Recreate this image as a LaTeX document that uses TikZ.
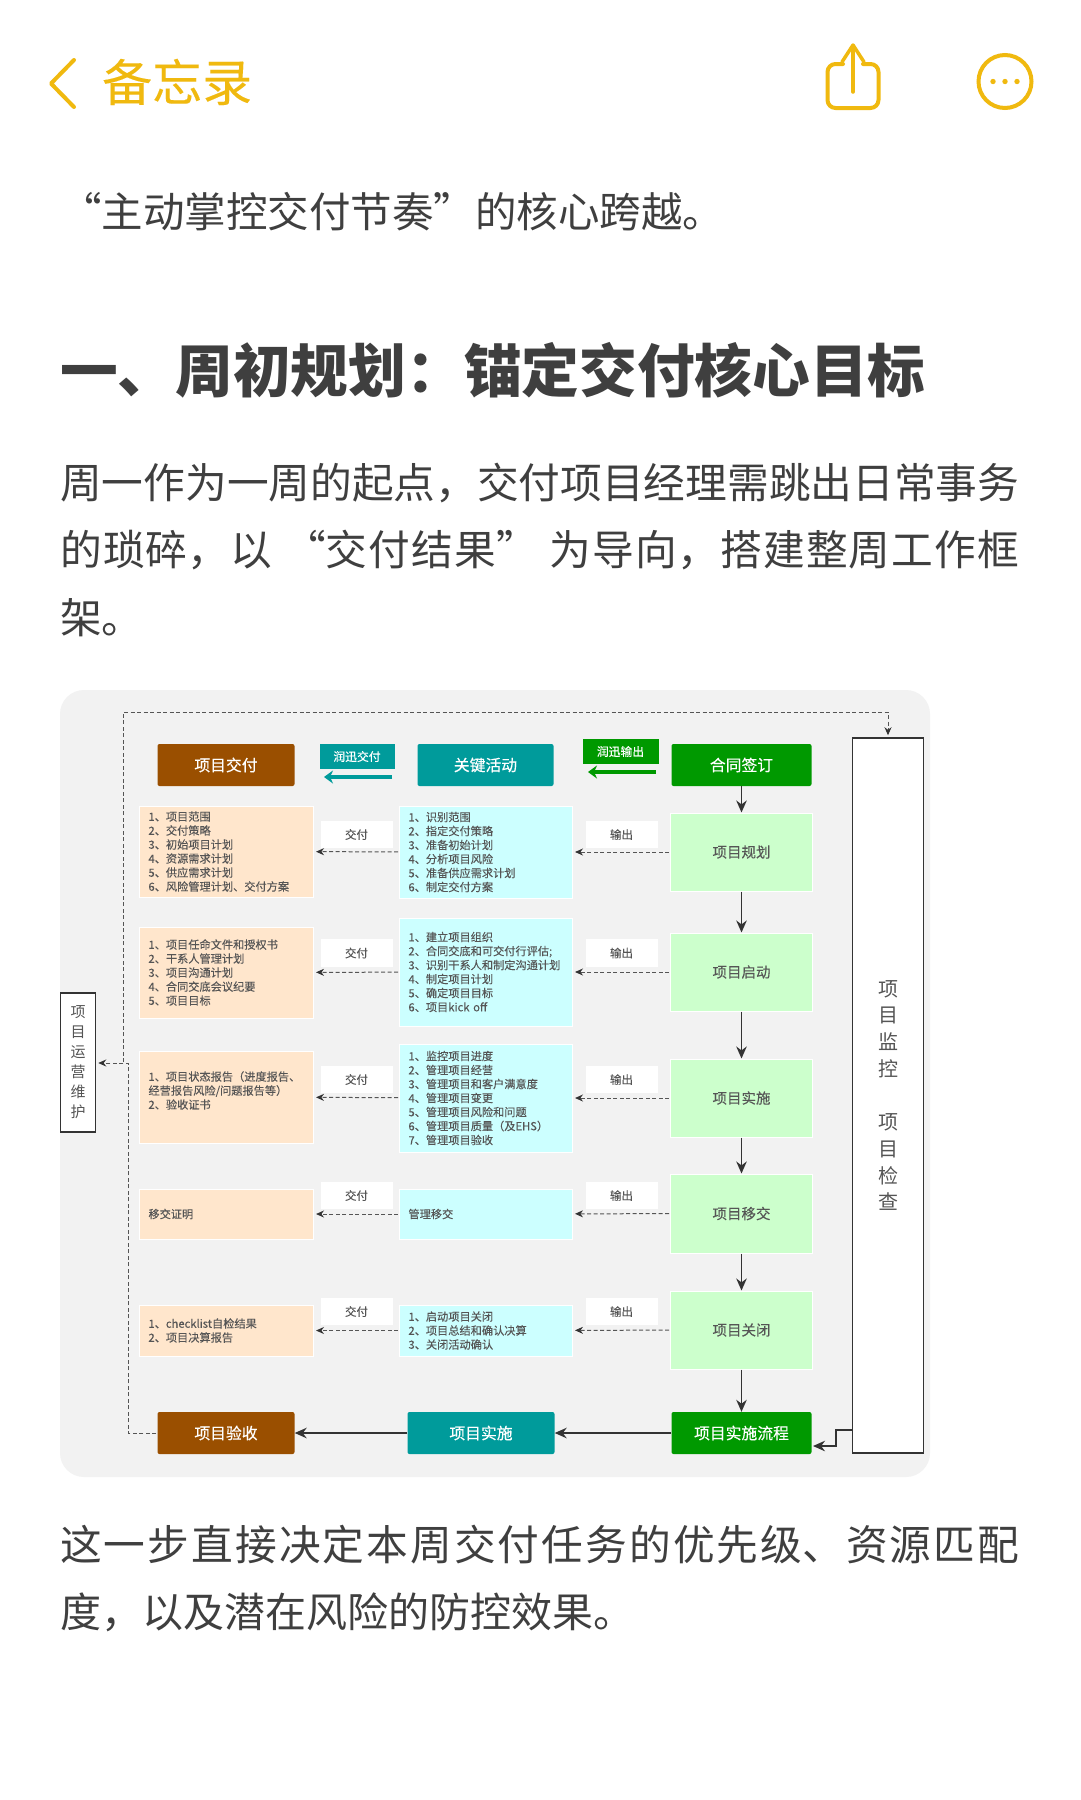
\documentclass[tikz,border=0pt]{standalone}
\usepackage{fontspec}
\setmainfont{Noto Sans CJK SC}
\newfontfamily\medfont[FakeBold=0.25]{Noto Sans CJK SC}
\newfontfamily\softfont[FakeBold=0.12]{Noto Sans CJK SC}
\usetikzlibrary{arrows.meta}
\XeTeXlinebreaklocale "zh"
\XeTeXlinebreakskip=0pt plus 3pt minus 0.3pt
\definecolor{amber}{HTML}{F0B90F}
\definecolor{bodyink}{HTML}{3F3F3F}
\definecolor{panelbg}{HTML}{F2F2F2}
\definecolor{brownh}{HTML}{9A4F00}
\definecolor{tealh}{HTML}{009B9B}
\definecolor{greenh}{HTML}{009900}
\definecolor{lgreen}{HTML}{CCFFCC}
\definecolor{lcyan}{HTML}{CCFFFF}
\definecolor{lorange}{HTML}{FFE6CC}
\definecolor{smallink}{HTML}{555555}
\definecolor{lineink}{HTML}{333333}
\newcommand{\bx}[7]{%
  \pgfmathsetmacro\bxw{#4-#2}\pgfmathsetmacro\bxh{#5-#3}%
  \node[inner sep=0pt,minimum width=\bxw pt,minimum height=\bxh pt,#6] (#1) at ({(#2+#4)/2-0.5},{(#3+#5)/2}) {#7};}
\newcommand{\tl}[4]{\node[anchor=base west,inner sep=0pt,text=bodyink] (#1) at (60,#2) {\fontsize{#3}{#3}\selectfont #4};}
\newcommand{\just}[1]{\parbox[t]{959pt}{\parfillskip=0pt\noindent #1}}
\newcommand{\lowr}[1]{\raisebox{-1pt}{#1}}
\tikzset{
  headbox/.style={rounded corners=2pt,text=white,font=\fontsize{15.8}{18}\selectfont\medfont},
  tagbox/.style={text=white,font=\fontsize{11.8}{14}\selectfont\medfont},
  listbox/.style={draw=white,line width=1pt,text=smallink,text width=\bxw pt-18pt,inner xsep=9pt,align=left,font=\fontsize{11.2}{14}\selectfont\softfont},
  stepbox/.style={draw=white,line width=1pt,fill=lgreen,text=smallink,font=\fontsize{14.5}{17}\selectfont\softfont},
  lablbox/.style={fill=white,text=smallink,font=\fontsize{11.5}{14}\selectfont\softfont},
  sidebox/.style={draw=lineink,line width=1.5pt,fill=white,text=smallink,align=center},
  dasharr/.style={draw=smallink,line width=1pt,dash pattern=on 4pt off 2.5pt,-{Stealth[length=8pt,width=7pt,color=lineink]},shorten >=2pt,shorten <=1pt},
  solarr/.style={draw=lineink,line width=1.7pt,-{Stealth[length=12pt,width=10.5pt]}},
  widearr/.style={line width=4pt,-{Stealth[length=9pt,width=13pt]}},
  iconline/.style={draw=amber,line width=4pt,line cap=round,line join=round}
}
\begin{document}
\begin{tikzpicture}[x=1pt,y=-1pt]
\useasboundingbox (0,0) rectangle (1080,1800);
\fill[white] (0,0) rectangle (1080,1800);
% top bar
\draw[iconline] (74,60) -- (51,83.5) -- (74,107);
\node[anchor=base west,inner sep=0pt,text=amber] (apptitle) at (102,101) {\fontsize{50}{50}\selectfont\softfont 备忘录};
\draw[iconline,rounded corners=8pt] (843,64) -- (827.5,64) -- (827.5,108) -- (878.5,108) -- (878.5,64) -- (863,64);
\draw[iconline,line width=3.5pt] (853,46) -- (853,92);
\draw[iconline,line width=3.5pt] (842,62) -- (853,45) -- (864,62);
\draw[amber,line width=4pt] (1005,81.5) circle[radius=26.5pt];
\fill[amber] (993,81.5) circle[radius=2.7pt] (1005,81.5) circle[radius=2.7pt] (1017,81.5) circle[radius=2.7pt];
% article text
\tl{l1}{227}{41.5}{“主动掌控交付节奏”的核心跨越。}
\node[anchor=base west,inner sep=0pt,text=bodyink] (hd) at (60,392) {\fontsize{57.7}{57.7}\selectfont\bfseries 一、周初规划：锚定交付核心目标};
\tl{p1}{498}{41.7}{\just{周一作为一周的起点，交付项目经理需跳出日常事务}}
\tl{p2}{565}{41.7}{\just{的琐碎，以\hspace{12pt}“交付结果”\hspace{12pt}为导向，搭建整周工作框}}
\tl{p3}{633}{41.7}{架。}
\tl{p4}{1560}{41.7}{\just{这一步直接决定本周交付任务的优先级、资源匹配}}
\tl{p5}{1627}{41}{度，以及潜在风险的防控效果。}
% diagram panel
\fill[panelbg,rounded corners=24pt] (60,690) rectangle (930,1477);
% headers
\bx{hA}{158}{744}{295}{786}{headbox,fill=brownh}{\raisebox{1pt}{项目交付}}
\bx{hB}{418}{744}{554}{786}{headbox,fill=tealh}{\raisebox{1pt}{关键活动}}
\bx{hC}{672}{744}{812}{786}{headbox,fill=greenh}{\raisebox{1pt}{合同签订}}
\bx{tagA}{320}{744}{395}{769}{tagbox,fill=tealh}{润迅交付}
\bx{tagB}{583}{739}{659}{764}{tagbox,fill=greenh}{润迅输出}
\coordinate (ta1) at (392,777); \coordinate (ta2) at (324,777);
\coordinate (tb1) at (656,772); \coordinate (tb2) at (588,772);
\draw[widearr,tealh] (ta1) -- (ta2);
\draw[widearr,greenh] (tb1) -- (tb2);
% row 1
\bx{o1}{140}{806}{314}{897}{listbox,fill=lorange}{1、项目范围\\2、交付策略\\3、初始项目计划\\4、资源需求计划\\5、供应需求计划\\6、风险管理计划、交付方案}
\bx{c1}{400}{806}{573}{898}{listbox,fill=lcyan}{1、识别范围\\2、指定交付策略\\3、准备初始计划\\4、分析项目风险\\5、准备供应需求计划\\6、制定交付方案}
\bx{g1}{671}{813}{813}{891}{stepbox}{项目规划}
\bx{la1}{321}{821}{393}{848}{lablbox}{\lowr{交付}}
\bx{lb1}{586}{821}{658}{848}{lablbox}{\lowr{输出}}
% row 2
\bx{o2}{140}{927}{314}{1018}{listbox,fill=lorange}{1、项目任命文件和授权书\\2、干系人管理计划\\3、项目沟通计划\\4、合同交底会议纪要\\5、项目目标}
\bx{c2}{400}{918}{573}{1026}{listbox,fill=lcyan}{1、建立项目组织\\2、合同交底和可交付行评估;\\3、识别干系人和制定沟通计划\\4、制定项目计划\\5、确定项目目标\\6、项目kick off}
\bx{g2}{671}{933}{813}{1011}{stepbox}{项目启动}
\bx{la2}{321}{939}{393}{967}{lablbox}{\lowr{交付}}
\bx{lb2}{586}{939}{658}{967}{lablbox}{\lowr{输出}}
% row 3
\bx{o3}{140}{1051}{314}{1143}{listbox,fill=lorange}{1、项目状态报告（进度报告、\\经营报告风险/问题报告等）\\2、验收证书\\\mbox{}}
\bx{c3}{400}{1044}{573}{1152}{listbox,fill=lcyan}{1、监控项目进度\\2、管理项目经营\\3、管理项目和客户满意度\\4、管理项目变更\\5、管理项目风险和问题\\6、管理项目质量（及EHS）\\7、管理项目验收}
\bx{g3}{671}{1059}{813}{1137}{stepbox}{项目实施}
\bx{la3}{321}{1066}{393}{1093}{lablbox}{\lowr{交付}}
\bx{lb3}{586}{1066}{658}{1093}{lablbox}{\lowr{输出}}
% row 4
\bx{o4}{140}{1189}{314}{1239}{listbox,fill=lorange}{移交证明}
\bx{c4}{400}{1189}{573}{1239}{listbox,fill=lcyan}{管理移交}
\bx{g4}{671}{1174}{813}{1253}{stepbox}{项目移交}
\bx{la4}{321}{1182}{393}{1209}{lablbox}{\lowr{交付}}
\bx{lb4}{586}{1182}{658}{1209}{lablbox}{\lowr{输出}}
% row 5
\bx{o5}{140}{1305}{314}{1356}{listbox,fill=lorange}{1、checklist自检结果\\2、项目决算报告}
\bx{c5}{400}{1305}{573}{1356}{listbox,fill=lcyan}{1、启动项目关闭\\2、项目总结和确认决算\\3、关闭活动确认}
\bx{g5}{671}{1291}{813}{1369}{stepbox}{项目关闭}
\bx{la5}{321}{1298}{393}{1325}{lablbox}{\lowr{交付}}
\bx{lb5}{586}{1298}{658}{1325}{lablbox}{\lowr{输出}}
% bottom
\bx{bA}{158}{1412}{295}{1454}{headbox,fill=brownh}{项目验收}
\bx{bB}{408}{1412}{555}{1454}{headbox,fill=tealh}{项目实施}
\bx{bC}{672}{1412}{812}{1454}{headbox,fill=greenh}{项目实施流程}
% side boxes
\bx{tall}{853}{738}{924}{1453}{sidebox,font=\fontsize{20}{26.7}\selectfont}{项\\目\\监\\控\\\mbox{}\\项\\目\\检\\查}
\bx{ops}{61}{993}{96}{1132}{sidebox,font=\fontsize{15}{20}\selectfont}{项\\目\\运\\营\\维\\护}
% connectors
\foreach \n in {1,...,5}{
  \draw[dasharr] (c\n) -- (o\n);
  \draw[dasharr] (g\n) -- (c\n);
}
\draw[solarr] (hC) -- (g1);
\draw[solarr] (g1) -- (g2);
\draw[solarr] (g2) -- (g3);
\draw[solarr] (g3) -- (g4);
\draw[solarr] (g4) -- (g5);
\draw[solarr] (g5) -- (bC);
\draw[solarr] (bC) -- (bB);
\draw[solarr] (bB) -- (bA);
\coordinate (ta) at (853,1430); \coordinate (tm1) at (836,1430); \coordinate (tm2) at (836,1446); \coordinate (tb) at (813,1446);
\draw[solarr] (ta) -- (tm1) -- (tm2) -- (tb);
\coordinate (d1) at (128,1433); \coordinate (d2) at (128,1063); \coordinate (d3) at (123,1063); \coordinate (d4) at (123,712); \coordinate (d5) at (888,712);
\draw[dasharr] (bA.west) -- (d1) -- (d2) -- (ops.east |- d2);
\draw[dasharr] (d3) -- (d4) -- (d5) -- (tall.north);
\end{tikzpicture}
\end{document}
